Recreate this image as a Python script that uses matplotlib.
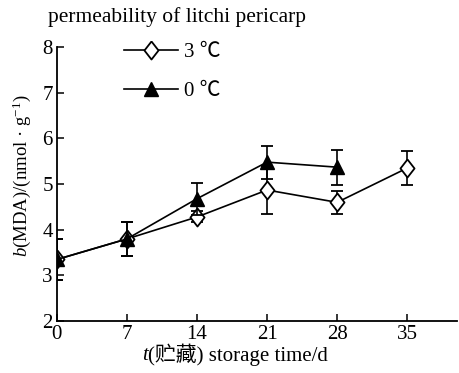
import matplotlib
matplotlib.use("Agg")
import matplotlib.pyplot as plt

days = [0, 7, 14, 21, 28, 35]
mda_3c = [3.35, 3.8, 4.28, 4.87, 4.6, 5.35]
err_3c = [0.45, 0.38, 0.12, 0.53, 0.25, 0.37]
days_0c = [0, 7, 14, 21, 28]
mda_0c = [3.35, 3.8, 4.68, 5.48, 5.37]
err_0c = [0.45, 0.38, 0.35, 0.36, 0.38]
labels = ["3 ℃", "0 ℃"]
yticks = [2, 3, 4, 5, 6, 7, 8]

plt.rcParams['font.family'] = ['Liberation Serif', 'Noto Sans CJK SC']
plt.rcParams['mathtext.fontset'] = 'custom'
plt.rcParams['mathtext.rm'] = 'Liberation Serif'
plt.rcParams['mathtext.it'] = 'Liberation Serif:italic'

diamond = [(0, 1), (0.78, 0), (0, -1), (-0.78, 0), (0, 1)]

fig = plt.figure(figsize=(4.59, 3.73), dpi=100)
ax = fig.add_axes([0.124, 0.139, 0.872, 0.735])

ax.errorbar(days, mda_3c, yerr=err_3c, color='black', lw=1.2, marker=diamond,
            markersize=13, markerfacecolor='white', markeredgecolor='black',
            markeredgewidth=1.3, capsize=4.5, elinewidth=1.2, capthick=1.3,
            label=labels[0], zorder=3)
ax.errorbar(days_0c, mda_0c, yerr=err_0c, color='black', lw=1.2, marker='^',
            markersize=10, markerfacecolor='black', markeredgecolor='black',
            capsize=4.5, elinewidth=1.2, capthick=1.3, label=labels[1], zorder=4)

ax.set_xlim(0, 40)
ax.set_ylim(2, 8)
ax.set_xticks(days)
ax.set_yticks(yticks)
ax.tick_params(direction='in', length=5, width=1.1, labelsize=15, pad=3)
for s in ['top', 'right']:
    ax.spines[s].set_visible(False)
for s in ['left', 'bottom']:
    ax.spines[s].set_linewidth(1.3)
    ax.spines[s].set_clip_on(False)

handles, labs = ax.get_legend_handles_labels()
handles = [h[0] for h in handles]
ax.legend(handles, labs, loc='upper left', bbox_to_anchor=(0.12, 1.085),
          frameon=False, fontsize=15, handlelength=2.6, handletextpad=0.3,
          labelspacing=0.95, numpoints=1)

ax.set_ylabel("$b$(MDA)/(nmol · g$^{-1}$)", fontsize=13.5)
ax.yaxis.set_label_coords(-0.06, 0.53)

fig.text(0.385, 0.953, "permeability of litchi pericarp", fontsize=15.5,
         ha='center', va='center')
fig.text(0.322, 0.048, "t", fontsize=15, fontstyle='italic',
         ha='right', va='center')
fig.text(0.322, 0.048, "(贮藏) storage time/d", fontsize=15,
         ha='left', va='center')

fig.savefig("out.png", dpi=100)
